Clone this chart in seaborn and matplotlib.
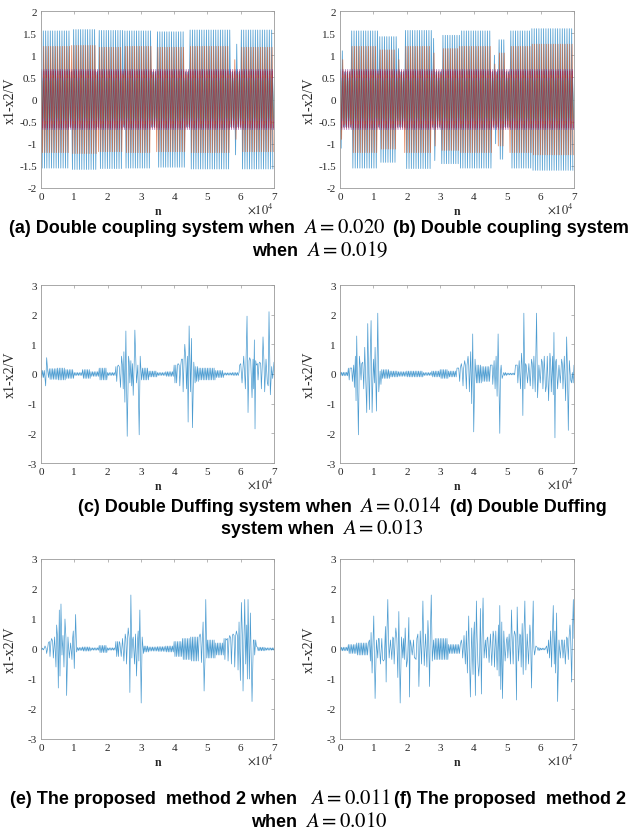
import numpy as np
import pandas as pd
import matplotlib
matplotlib.use("Agg")
import matplotlib.pyplot as plt
import seaborn as sns
from matplotlib.offsetbox import TextArea, HPacker, AnchoredOffsetbox

# ---------------------------------------------------------------- data
n_ticks = [0, 1, 2, 3, 4, 5, 6, 7]                      # x 10^4
ab_yticks = [-2, -1.5, -1, -0.5, 0, 0.5, 1, 1.5, 2]
cf_yticks = [-3, -2, -1, 0, 1, 2, 3]

matlab_colors = ["#0072BD", "#D95319", "#EDB120", "#7E2F8E",
                 "#77AC30", "#4DBEEE", "#A2142F"]
series_names = ["s1", "s2", "s3", "s4", "s5", "s6", "s7"]

# (a) double coupling, A = 0.020 : high-amplitude blocks (n in 1e4)
a_block_start = [0.02, 0.92, 1.72, 2.52, 3.47, 4.47, 5.82, 6.02]
a_block_end   = [0.87, 1.67, 2.45, 3.32, 4.32, 5.67, 5.89, 7.00]
a_blue_amp    = [1.55, 1.58, 1.56, 1.55, 1.53, 1.57, 1.25, 1.57]
a_orange_amp  = [1.20, 1.22, 1.18, 1.20, 1.18, 1.20, 0.90, 1.18]

# (b) double coupling, A = 0.019
b_block_start = [0.02, 0.33, 1.18, 1.73, 1.93, 2.78, 3.03, 3.58, 4.60, 4.73, 5.08, 5.73]
b_block_end   = [0.10, 1.13, 1.68, 1.78, 2.73, 2.86, 3.58, 4.53, 4.66, 4.93, 5.73, 7.00]
b_blue_amp    = [1.10, 1.55, 1.42, 1.15, 1.56, 1.38, 1.45, 1.55, 1.00, 1.35, 1.55, 1.60]
b_orange_amp  = [0.90, 1.20, 1.12, 0.90, 1.20, 1.05, 1.15, 1.20, 0.80, 1.05, 1.20, 1.25]

gap_amp = [0.62, 0.58]                                  # blue, orange outside blocks
inner_amp = [0.55, 0.68, 0.42, 0.48, 0.64]              # yellow, purple, green, cyan, dark red

# (c)-(f): background oscillation amplitude per 0.25e4 bin, and spikes (n in 1e4, value)
c_bg = [0.12, 0.18, 0.2, 0.15, 0.05, 0.15, 0.08, 0.2, 0.05, 0.25, 0.4, 0.35, 0.2, 0.1,
        0.05, 0.08, 0.3, 0.5, 0.25, 0.2, 0.2, 0.12, 0.04, 0.05, 0.35, 0.45, 0.35, 0.4]
c_spikes = [(0.14, -0.40), (0.17, 0.55),
            (2.32, 0.30), (2.39, -0.45), (2.42, 0.60), (2.47, -0.50), (2.49, 0.75), (2.52, -0.95),
            (2.55, 1.45), (2.59, -2.10), (2.63, 0.60), (2.67, -0.30), (2.70, 0.45), (2.77, -0.72),
            (2.82, 1.48), (2.87, -0.30), (2.91, 0.30), (2.95, -2.05), (2.98, 0.60), (3.02, -0.20),
            (4.12, 0.35), (4.17, -0.40), (4.22, 0.50), (4.27, -0.60), (4.32, 1.00), (4.37, -0.50),
            (4.40, 0.60), (4.42, -1.62), (4.45, 1.62), (4.49, -0.60), (4.52, 1.20), (4.55, -1.81),
            (4.59, 0.40), (4.63, -0.30),
            (5.97, 0.30), (6.04, -0.30), (6.09, 0.60), (6.14, -0.50), (6.19, 1.95), (6.22, -1.30),
            (6.27, 0.55), (6.34, -0.80), (6.37, 0.50), (6.39, -0.50), (6.41, 1.15), (6.43, -1.85),
            (6.47, 0.30), (6.52, -0.20), (6.57, 0.40), (6.62, -0.50), (6.67, 1.25), (6.72, -0.60),
            (6.76, 0.50), (6.80, -0.30), (6.85, 2.10), (6.89, -0.70), (6.93, 0.25), (6.96, -0.15)]

d_bg = [0.06, 0.2, 0.35, 0.4, 0.35, 0.15, 0.1, 0.08, 0.1, 0.1, 0.05, 0.1, 0.15, 0.1,
        0.2, 0.3, 0.3, 0.25, 0.3, 0.05, 0.03, 0.3, 0.35, 0.35, 0.4, 0.4, 0.35, 0.3]
d_spikes = [(0.33, 0.2), (0.37, -0.25), (0.41, 0.3), (0.43, -0.45), (0.46, 0.6), (0.48, -0.9),
            (0.50, 1.28), (0.55, -2.05), (0.58, 0.6), (0.63, -0.2), (0.68, 0.4), (0.71, -0.5),
            (0.74, 0.9), (0.80, -1.3), (0.83, 1.7), (0.88, -1.2), (0.93, 1.8), (0.96, -1.3),
            (1.00, 0.5), (1.03, -0.3), (1.05, 0.9), (1.09, -1.25), (1.13, 2.05), (1.16, -0.6),
            (1.20, 0.1),
            (3.53, 0.2), (3.58, -0.25), (3.63, 0.35), (3.68, -0.4), (3.73, 0.45), (3.78, -0.5),
            (3.83, 0.6), (3.87, -0.6), (3.91, 0.75), (3.94, -1.0), (3.97, 1.35), (4.00, -1.95),
            (4.04, 0.5), (4.08, -0.3),
            (4.53, 0.3), (4.57, -0.35), (4.61, 0.45), (4.64, -0.5), (4.67, 0.6), (4.70, -0.75),
            (4.73, 1.35), (4.78, -2.0), (4.82, 0.3), (4.85, -0.15),
            (5.28, 0.3), (5.32, -0.3), (5.36, 0.45), (5.40, -0.5), (5.43, 0.7), (5.47, -1.4),
            (5.50, 2.05), (5.53, -0.5), (5.57, 0.3), (5.61, -0.3), (5.65, 0.35), (5.69, -0.4),
            (5.73, 0.5), (5.77, -0.5), (5.80, 0.6), (5.84, -0.6), (5.88, 2.05), (5.91, -0.8),
            (5.95, 0.3), (5.99, -0.3), (6.03, 0.5), (6.07, -0.5), (6.11, 0.6), (6.15, -0.6),
            (6.20, 0.6), (6.24, -0.9), (6.28, 0.7), (6.32, -0.6), (6.36, 0.6), (6.38, -0.7),
            (6.40, 1.4), (6.43, -2.15), (6.47, 0.5), (6.51, -0.5), (6.55, 0.3), (6.59, -0.3),
            (6.63, 0.5), (6.67, -0.5), (6.71, 0.6), (6.75, -0.9), (6.78, 1.25), (6.83, -1.9),
            (6.86, 0.45), (6.90, -0.2), (6.95, 0.05)]

e_bg = [0.03, 0.25, 0.35, 0.35, 0.05, 0.07, 0.04, 0.12, 0.04, 0.25, 0.35, 0.3, 0.1, 0.07,
        0.08, 0.1, 0.25, 0.35, 0.4, 0.4, 0.3, 0.2, 0.35, 0.45, 0.45, 0.3, 0.06, 0.04]
e_spikes = [(0.12, 0.1), (0.17, -0.15), (0.22, 0.2), (0.27, -0.25), (0.32, 0.35), (0.37, -0.3),
            (0.41, 0.4), (0.45, -0.6), (0.47, 0.8), (0.52, -1.3), (0.55, 1.3), (0.57, -0.9),
            (0.60, 1.5), (0.63, -0.2), (0.66, 0.45), (0.69, -0.6), (0.72, 1.0), (0.77, -1.55),
            (0.81, 0.4), (0.85, -0.3), (0.89, 0.2), (0.93, -0.35), (0.97, 0.6), (1.00, -0.65),
            (1.04, 1.15), (1.07, -0.1),
            (2.37, 0.2), (2.41, -0.25), (2.45, 0.35), (2.49, -0.4), (2.53, 0.5), (2.57, -0.5),
            (2.62, 0.7), (2.67, -1.45), (2.70, 1.8), (2.73, -0.3), (2.77, 0.4), (2.81, -0.5),
            (2.84, 0.5), (2.87, -0.9), (2.92, 0.6), (2.94, -0.4), (2.97, 1.3), (3.01, -1.8),
            (3.04, 0.4), (3.08, -0.15),
            (4.78, 0.5), (4.82, -0.45), (4.87, 0.9), (4.90, -1.4), (4.95, 1.65), (4.98, -0.3),
            (5.57, 0.3), (5.62, -0.4), (5.67, 0.45), (5.72, -0.5), (5.77, 0.5), (5.82, -0.6),
            (5.87, 0.6), (5.92, -0.7), (5.95, 0.9), (5.99, -1.05), (6.02, 1.55), (6.07, -1.4),
            (6.12, 1.65), (6.15, -0.5), (6.18, 0.8), (6.20, -1.0), (6.22, 1.65), (6.26, -1.0),
            (6.29, 1.2), (6.34, -1.75), (6.38, 0.3), (6.42, -0.2), (6.47, 0.1)]

f_bg = [0.06, 0.15, 0.2, 0.2, 0.35, 0.35, 0.35, 0.35, 0.3, 0.35, 0.4, 0.35, 0.35, 0.15,
        0.15, 0.4, 0.45, 0.35, 0.45, 0.45, 0.4, 0.45, 0.45, 0.05, 0.03, 0.35, 0.3, 0.35]
f_spikes = [(0.88, 0.3), (0.91, -0.4), (0.93, 0.55), (0.96, -0.8), (1.01, 1.1), (1.05, -1.65),
            (1.09, 0.3), (1.13, -0.3), (1.17, 0.35), (1.21, -0.5), (1.25, 0.35), (1.30, -0.4),
            (1.36, 0.75), (1.38, -1.1), (1.43, 1.65), (1.47, -0.3), (1.51, 0.3), (1.55, -0.35),
            (1.58, 0.4), (1.62, -0.5), (1.67, 0.7), (1.73, -0.95), (1.76, 1.25), (1.80, -1.8),
            (1.84, 0.4), (1.88, -0.3), (1.95, 0.7), (1.99, -0.6), (2.06, 1.05), (2.08, -1.6),
            (2.12, 0.2), (2.16, -0.2), (2.20, 0.3), (2.25, -0.3), (2.33, 0.5), (2.36, -1.25),
            (2.40, 0.6), (2.44, -0.5), (2.48, 1.6), (2.52, -0.55), (2.56, 0.5), (2.60, -0.6),
            (2.63, 0.95), (2.68, -1.25), (2.73, 1.8), (2.76, -0.4), (2.80, 0.3),
            (3.63, 0.3), (3.67, -0.3), (3.71, 0.45), (3.75, -0.5), (3.78, 0.6), (3.81, -0.8),
            (3.85, 1.1), (3.90, -1.6), (3.94, 0.7), (3.98, -0.85), (4.02, 0.9), (4.05, -1.55),
            (4.08, 1.6), (4.15, -0.9), (4.20, 1.35), (4.23, -1.5), (4.28, 1.7), (4.31, -0.3),
            (4.35, 0.3), (4.38, -0.3), (4.42, 0.4), (4.46, -0.45), (4.50, 0.5), (4.54, -0.55),
            (4.58, 0.6), (4.62, -0.6), (4.66, 0.6), (4.70, -0.7), (4.74, 0.8), (4.76, -0.9),
            (4.78, 1.45), (4.81, -1.35), (4.84, 0.9), (4.86, -1.65), (4.90, 0.6), (4.94, -0.4),
            (4.98, 0.3), (5.02, -0.3), (5.06, 0.5), (5.10, -0.5), (5.13, 1.3), (5.18, -0.5),
            (5.22, 0.6), (5.28, -1.7), (5.30, 1.4), (5.34, -0.4), (5.38, 0.5), (5.42, -0.6),
            (5.45, 0.85), (5.48, -0.85), (5.53, 1.6), (5.56, -0.7), (5.60, 0.5), (5.64, -0.5),
            (5.68, 0.8), (5.73, -1.3), (5.78, 1.6), (5.82, -0.2), (5.86, 0.1),
            (6.18, 0.1), (6.21, -0.15), (6.24, 0.3), (6.27, -0.3), (6.30, 0.6), (6.33, -0.6),
            (6.38, 1.45), (6.41, -0.5), (6.43, 0.6), (6.45, -0.8), (6.48, 1.2), (6.51, -1.75),
            (6.55, 0.3), (6.59, -0.3), (6.63, 0.3), (6.67, -0.3), (6.71, 0.3), (6.74, -0.5),
            (6.78, 0.4), (6.83, -0.35), (6.88, 0.8), (6.93, -1.1), (6.98, 1.65)]

captions = [
    (229, [("(a) Double coupling system when ", "t"), ("$A=0.020$", "m"),
           (" (b) Double coupling system", "t")], 319),
    (251, [("when ", "t"), ("$A=0.019$", "m")], 320),
    (507, [("(c) Double Duffing system when ", "t"), ("$A=0.014$", "m"),
           (" (d) Double Duffing", "t")], 342),
    (530, [("system when ", "t"), ("$A=0.013$", "m")], 322),
    (800, [("(e) The proposed  method 2 when  ", "t"), ("$A=0.011$", "m"),
           ("(f) The proposed  method 2", "t")], 318),
    (823, [("when ", "t"), ("$A=0.010$", "m")], 319),
]

# ---------------------------------------------------------------- helpers
HALF = 350          # samples of the coupling signal (n)
BG_STEP = 250       # samples of the background oscillation (n)


def coupling_frame(starts, ends, blue, orange):
    rows = []
    phases = [0, 120, 60, 200, 260, 300, 160]
    for s, (name, ph) in enumerate(zip(series_names, phases)):
        n = np.arange(ph, 70000, HALF)
        k = np.arange(len(n))
        sign = np.where(k % 2 == 0, 1.0, -1.0)
        if s < 2:
            amp = np.full(len(n), gap_amp[s])
            levels = blue if s == 0 else orange
            for a0, a1, lv in zip(starts, ends, levels):
                m = (n >= a0 * 1e4) & (n <= a1 * 1e4)
                amp[m] = lv
        else:
            amp = np.full(len(n), inner_amp[s - 2])
        rows.append(pd.DataFrame({"n": n, "v": amp * sign, "series": name}))
    return pd.concat(rows, ignore_index=True)


def burst_frame(bg, spikes):
    n = np.arange(0, 70001, BG_STEP)
    amp = np.asarray(bg)[np.minimum(n // 2500, len(bg) - 1)]
    sign = np.where((n // BG_STEP) % 2 == 0, 1.0, -1.0)
    sn = np.array([p[0] for p in spikes]) * 1e4
    sv = np.array([p[1] for p in spikes])
    keep = np.min(np.abs(n[:, None] - sn[None, :]), axis=1) > 170
    nn = np.concatenate([n[keep], sn])
    vv = np.concatenate([(amp * sign)[keep], sv])
    o = np.argsort(nn, kind="stable")
    return pd.DataFrame({"n": nn[o], "v": vv[o]})


# ---------------------------------------------------------------- figure
sns.set_theme(style="white")
plt.rcParams["font.family"] = ["Liberation Serif", "DejaVu Serif"]
plt.rcParams["mathtext.fontset"] = "stix"

W, H = 636, 837
fig = plt.figure(figsize=(W / 100, H / 100), dpi=100)
fig.patch.set_facecolor("white")


def add_ax(L, R, T, B):
    return fig.add_axes([L / W, 1 - B / H, (R - L) / W, (B - T) / H])


def style(ax, ylim, yticks, w, h):
    ax.set_xlim(0, 70000)
    ax.set_ylim(*ylim)
    ax.set_xticks([t * 1e4 for t in n_ticks])
    ax.set_xticklabels([str(t) for t in n_ticks])
    ax.set_yticks(yticks)
    ax.set_yticklabels([("%g" % t) for t in yticks])
    ax.tick_params(direction="in", top=True, right=True, length=2.5, width=0.5,
                   color="#9a9a9a", labelcolor="#262626", labelsize=8, pad=3)
    for sp in ax.spines.values():
        sp.set_color("#9a9a9a")
        sp.set_linewidth(0.6)
    ax.set_facecolor("white")
    ax.set_xlabel("n", fontsize=8.5, color="#262626", fontweight="bold")
    ax.xaxis.set_label_coords(0.5, -17 / h)
    ax.set_ylabel("x1-x2/V", fontsize=10, color="#262626")
    ax.yaxis.set_label_coords(-24 / w, 0.5)
    ax.text(1.0, -20 / h, r"$\times10^{4}$", transform=ax.transAxes, ha="right",
            va="center", fontsize=9, color="#262626")


panels_ab = [
    ((41, 274, 12, 189), a_block_start, a_block_end, a_blue_amp, a_orange_amp),
    ((340, 574, 12, 189), b_block_start, b_block_end, b_blue_amp, b_orange_amp),
]
for (L, R, T, B), st, en, bl, orv in panels_ab:
    ax = add_ax(L, R, T, B)
    df = coupling_frame(st, en, bl, orv)
    sns.lineplot(data=df, x="n", y="v", hue="series", hue_order=series_names,
                 palette=matlab_colors, estimator=None, sort=False, legend=False,
                 linewidth=0.6, alpha=0.65, ax=ax)
    style(ax, (-2, 2), ab_yticks, R - L, B - T)

panels_cf = [
    ((41, 274, 286, 464), c_bg, c_spikes),
    ((340, 574, 286, 464), d_bg, d_spikes),
    ((41, 274, 560, 740), e_bg, e_spikes),
    ((340, 574, 560, 740), f_bg, f_spikes),
]
for (L, R, T, B), bg, sp in panels_cf:
    ax = add_ax(L, R, T, B)
    df = burst_frame(bg, sp)
    sns.lineplot(data=df, x="n", y="v", color="#0072BD", estimator=None, sort=False,
                 linewidth=0.5, alpha=0.7, ax=ax)
    style(ax, (-3, 3), cf_yticks, R - L, B - T)

# ---------------------------------------------------------------- captions
tprops = dict(family=["Liberation Sans", "DejaVu Sans"], weight="bold", size=13, color="black")
mprops = dict(size=15, color="black")
for y, parts, xc in captions:
    kids = [TextArea(txt, textprops=(tprops if kind == "t" else mprops)) for txt, kind in parts]
    box = HPacker(children=kids, align="baseline", pad=0, sep=2)
    anch = AnchoredOffsetbox(loc="center", child=box, pad=0, borderpad=0, frameon=False,
                             bbox_to_anchor=(xc / W, 1 - y / H),
                             bbox_transform=fig.transFigure)
    fig.add_artist(anch)

fig.savefig("out.png", dpi=100, facecolor="white")
